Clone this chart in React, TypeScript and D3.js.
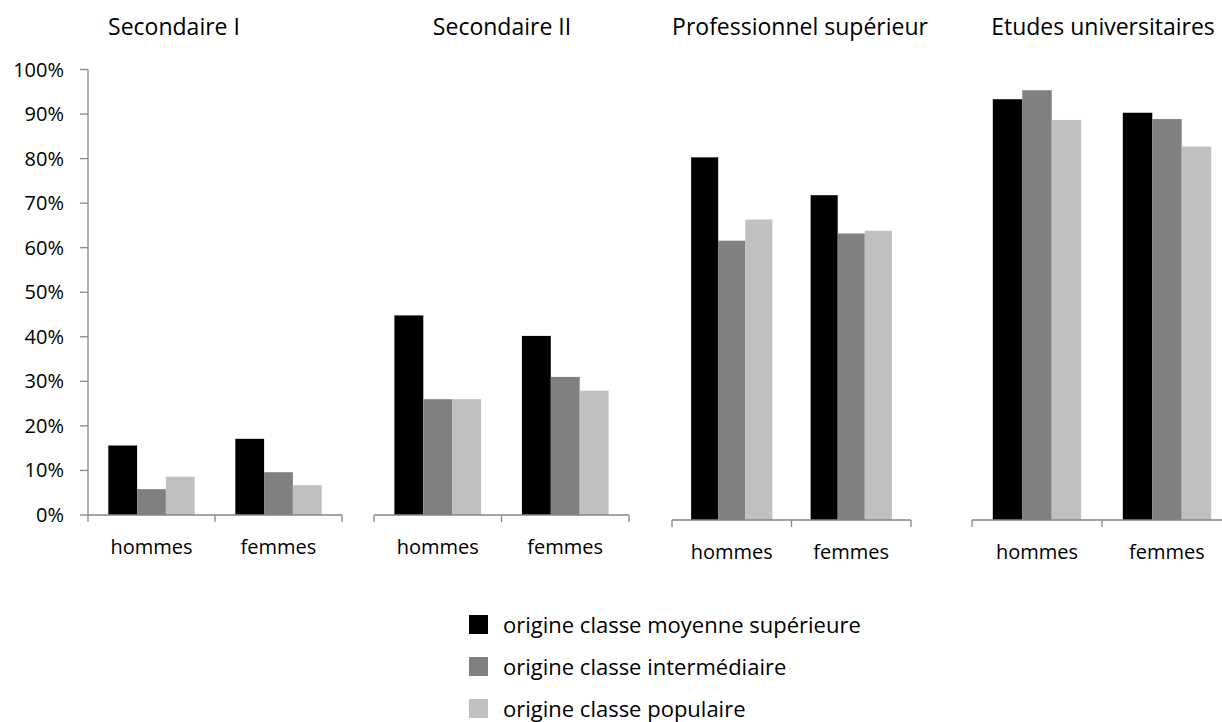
import { useMemo } from 'react';
import * as d3 from 'd3';

const levels = ['Secondaire I', 'Secondaire II', 'Professionnel supérieur', 'Etudes universitaires'];
const sexes = ['hommes', 'femmes'];
const origins = [
    'origine classe moyenne supérieure',
    'origine classe intermédiaire',
    'origine classe populaire',
];

// share (%) by level, [hommes, femmes]
const moyenneSuperieure = [
    [15.6, 17.1],
    [44.8, 40.2],
    [80.5, 72.1],
    [93.4, 90.4],
];
const intermediaire = [
    [5.8, 9.6],
    [26.0, 31.0],
    [62.0, 63.6],
    [95.4, 89.0],
];
const populaire = [
    [8.6, 6.7],
    [26.0, 27.9],
    [66.7, 64.2],
    [88.8, 82.9],
];
const yTicks = [0, 10, 20, 30, 40, 50, 60, 70, 80, 90, 100];

const series = [moyenneSuperieure, intermediaire, populaire];
const colours = ['#000000', '#808080', '#c0c0c0'];
const axisColour = '#868686';
const font = '"Open Sans", sans-serif';

// each panel is its own little chart, as in the spreadsheet original
const panels = [
    { x0: 88, x1: 342, base: 515, titleX: 174 },
    { x0: 374, x1: 629, base: 515, titleX: 502 },
    { x0: 672, x1: 911, base: 520, titleX: 800 },
    { x0: 972, x1: 1232, base: 520, titleX: 1103 },
];
const top = 69.5;

function Panel({ index }: { index: number }) {
    const { x0, x1, base, titleX } = panels[index];

    const xScale = useMemo(
        () => d3.scaleBand<string>().domain(sexes).range([x0, x1]).paddingInner(0.32).paddingOuter(0.16),
        [x0, x1]
    );
    const inner = useMemo(
        () =>
            d3
                .scaleBand<number>()
                .domain(d3.range(origins.length))
                .range([0, xScale.bandwidth()]),
        [xScale]
    );
    const yScale = useMemo(() => d3.scaleLinear().domain([0, 100]).range([base, top]), [base]);
    const step = xScale.step();
    const boundaries = d3.range(sexes.length + 1).map((i) => x0 + i * step);

    return (
        <g>
            <text x={titleX} y={35} textAnchor="middle" fontSize={23} fill="#000">
                {levels[index]}
            </text>
            {sexes.map((sex, si) =>
                series.map((s, oi) => {
                    const v = s[index][si];
                    return (
                        <rect
                            key={`${sex}-${oi}`}
                            x={(xScale(sex) ?? 0) + (inner(oi) ?? 0)}
                            y={yScale(v)}
                            width={inner.bandwidth()}
                            height={base - yScale(v)}
                            fill={colours[oi]}
                        />
                    );
                })
            )}
            <line x1={x0} x2={x1} y1={base} y2={base} stroke={axisColour} strokeWidth={1.3} />
            {boundaries.map((bx, i) => (
                <line key={i} x1={bx} x2={bx} y1={base} y2={base + 7} stroke={axisColour} strokeWidth={1.3} />
            ))}
            {sexes.map((sex) => (
                <text
                    key={sex}
                    x={(xScale(sex) ?? 0) + xScale.bandwidth() / 2}
                    y={base + 39}
                    textAnchor="middle"
                    fontSize={20}
                    fill="#000"
                >
                    {sex}
                </text>
            ))}
            {index === 0 && (
                <g>
                    <line x1={x0} x2={x0} y1={top} y2={base} stroke={axisColour} strokeWidth={1.3} />
                    {yTicks.map((t) => (
                        <g key={t}>
                            <line x1={x0 - 8} x2={x0} y1={yScale(t)} y2={yScale(t)} stroke={axisColour} strokeWidth={1.3} />
                            <text x={64} y={yScale(t)} dy="0.35em" textAnchor="end" fontSize={20} fill="#000">
                                {`${t}%`}
                            </text>
                        </g>
                    ))}
                </g>
            )}
        </g>
    );
}

export default function App() {
    // rows pulled up a little so the last one is not clipped by the page edge
    const legendY = d3.scalePoint<string>().domain(origins).range([615, 699]);

    return (
        <svg
            width={1222}
            height={722}
            viewBox="0 0 1222 722"
            style={{ position: 'absolute', left: 0, top: 0, background: '#fff' }}
            fontFamily={font}
        >
            <rect width={1222} height={722} fill="#fff" />
            {levels.map((_, i) => (
                <Panel key={i} index={i} />
            ))}
            {origins.map((o, i) => (
                <g key={o} transform={`translate(469, ${legendY(o)})`}>
                    <rect width={19} height={19} fill={colours[i]} />
                    <text x={34} y={17.5} fontSize={22} fill="#000">
                        {o}
                    </text>
                </g>
            ))}
        </svg>
    );
}
